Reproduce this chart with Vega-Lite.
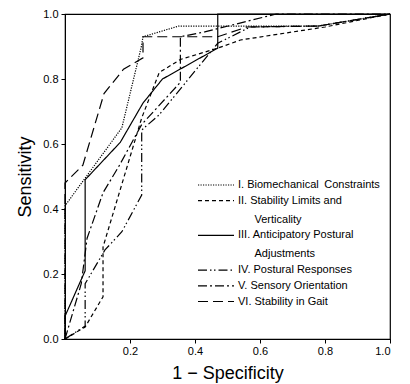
{
  "$schema": "https://vega.github.io/schema/vega-lite/v6.json",
  "width": 325,
  "height": 325,
  "autosize": {"type": "none"},
  "padding": {"left": 65, "top": 14, "right": 20, "bottom": 45},
  "background": "white",
  "config": {
    "view": {"stroke": "black", "strokeWidth": 1.2},
    "font": "Liberation Sans",
    "axis": {"domainColor": "black", "tickColor": "black", "labelColor": "black", "titleColor": "black", "grid": false, "titleFontWeight": "normal", "labelFontWeight": "normal"}
  },
  "data": {
    "values": [
      {"series": "I. Biomechanical  Constraints", "o": 0, "x": 0, "y": 0},
      {"series": "I. Biomechanical  Constraints", "o": 1, "x": 0, "y": 0.41},
      {"series": "I. Biomechanical  Constraints", "o": 2, "x": 0.175, "y": 0.65},
      {"series": "I. Biomechanical  Constraints", "o": 3, "x": 0.235, "y": 0.9},
      {"series": "I. Biomechanical  Constraints", "o": 4, "x": 0.24, "y": 0.93},
      {"series": "I. Biomechanical  Constraints", "o": 5, "x": 0.35, "y": 0.963},
      {"series": "I. Biomechanical  Constraints", "o": 6, "x": 0.78, "y": 0.963},
      {"series": "I. Biomechanical  Constraints", "o": 7, "x": 1, "y": 1},

      {"series": "II. Stability Limits and Verticality", "o": 0, "x": 0, "y": 0},
      {"series": "II. Stability Limits and Verticality", "o": 1, "x": 0.062, "y": 0.037},
      {"series": "II. Stability Limits and Verticality", "o": 2, "x": 0.117, "y": 0.13},
      {"series": "II. Stability Limits and Verticality", "o": 3, "x": 0.117, "y": 0.283},
      {"series": "II. Stability Limits and Verticality", "o": 4, "x": 0.236, "y": 0.68},
      {"series": "II. Stability Limits and Verticality", "o": 5, "x": 0.29, "y": 0.82},
      {"series": "II. Stability Limits and Verticality", "o": 6, "x": 0.355, "y": 0.86},
      {"series": "II. Stability Limits and Verticality", "o": 7, "x": 0.47, "y": 0.895},
      {"series": "II. Stability Limits and Verticality", "o": 8, "x": 0.54, "y": 0.92},
      {"series": "II. Stability Limits and Verticality", "o": 9, "x": 0.8, "y": 0.96},
      {"series": "II. Stability Limits and Verticality", "o": 10, "x": 1, "y": 1},

      {"series": "III. Anticipatory Postural Adjustments", "o": 0, "x": 0, "y": 0},
      {"series": "III. Anticipatory Postural Adjustments", "o": 1, "x": 0, "y": 0.07},
      {"series": "III. Anticipatory Postural Adjustments", "o": 2, "x": 0.062, "y": 0.21},
      {"series": "III. Anticipatory Postural Adjustments", "o": 3, "x": 0.062, "y": 0.49},
      {"series": "III. Anticipatory Postural Adjustments", "o": 4, "x": 0.17, "y": 0.605},
      {"series": "III. Anticipatory Postural Adjustments", "o": 5, "x": 0.24, "y": 0.726},
      {"series": "III. Anticipatory Postural Adjustments", "o": 6, "x": 0.3, "y": 0.8},
      {"series": "III. Anticipatory Postural Adjustments", "o": 7, "x": 0.47, "y": 0.895},
      {"series": "III. Anticipatory Postural Adjustments", "o": 8, "x": 0.47, "y": 1},
      {"series": "III. Anticipatory Postural Adjustments", "o": 9, "x": 1, "y": 1},

      {"series": "IV. Postural Responses", "o": 0, "x": 0, "y": 0},
      {"series": "IV. Postural Responses", "o": 1, "x": 0.062, "y": 0.04},
      {"series": "IV. Postural Responses", "o": 2, "x": 0.062, "y": 0.17},
      {"series": "IV. Postural Responses", "o": 3, "x": 0.123, "y": 0.274},
      {"series": "IV. Postural Responses", "o": 4, "x": 0.175, "y": 0.33},
      {"series": "IV. Postural Responses", "o": 5, "x": 0.236, "y": 0.443},
      {"series": "IV. Postural Responses", "o": 6, "x": 0.236, "y": 0.643},
      {"series": "IV. Postural Responses", "o": 7, "x": 0.29, "y": 0.69},
      {"series": "IV. Postural Responses", "o": 8, "x": 0.47, "y": 0.91},
      {"series": "IV. Postural Responses", "o": 9, "x": 0.57, "y": 0.96},
      {"series": "IV. Postural Responses", "o": 10, "x": 0.78, "y": 0.963},
      {"series": "IV. Postural Responses", "o": 11, "x": 1, "y": 1},

      {"series": "V. Sensory Orientation", "o": 0, "x": 0, "y": 0},
      {"series": "V. Sensory Orientation", "o": 1, "x": 0.05, "y": 0.17},
      {"series": "V. Sensory Orientation", "o": 2, "x": 0.068, "y": 0.31},
      {"series": "V. Sensory Orientation", "o": 3, "x": 0.117, "y": 0.45},
      {"series": "V. Sensory Orientation", "o": 4, "x": 0.165, "y": 0.53},
      {"series": "V. Sensory Orientation", "o": 5, "x": 0.236, "y": 0.66},
      {"series": "V. Sensory Orientation", "o": 6, "x": 0.355, "y": 0.79},
      {"series": "V. Sensory Orientation", "o": 7, "x": 0.355, "y": 0.93},
      {"series": "V. Sensory Orientation", "o": 8, "x": 0.43, "y": 0.945},
      {"series": "V. Sensory Orientation", "o": 9, "x": 0.65, "y": 1},
      {"series": "V. Sensory Orientation", "o": 10, "x": 1, "y": 1},

      {"series": "VI. Stability in Gait", "o": 0, "x": 0, "y": 0},
      {"series": "VI. Stability in Gait", "o": 1, "x": 0, "y": 0.48},
      {"series": "VI. Stability in Gait", "o": 2, "x": 0.055, "y": 0.535},
      {"series": "VI. Stability in Gait", "o": 3, "x": 0.12, "y": 0.755},
      {"series": "VI. Stability in Gait", "o": 4, "x": 0.18, "y": 0.83},
      {"series": "VI. Stability in Gait", "o": 5, "x": 0.24, "y": 0.865},
      {"series": "VI. Stability in Gait", "o": 6, "x": 0.24, "y": 0.93},
      {"series": "VI. Stability in Gait", "o": 7, "x": 0.47, "y": 0.93},
      {"series": "VI. Stability in Gait", "o": 8, "x": 0.56, "y": 0.96},
      {"series": "VI. Stability in Gait", "o": 9, "x": 0.78, "y": 0.963},
      {"series": "VI. Stability in Gait", "o": 10, "x": 1, "y": 1}
    ]
  },
  "mark": {"type": "line", "strokeWidth": 1.2, "color": "black"},
  "encoding": {
    "x": {
      "field": "x", "type": "quantitative",
      "scale": {"domain": [0, 1], "nice": false},
      "axis": {"title": "1 − Specificity", "values": [0.2, 0.4, 0.6, 0.8, 1.0], "format": ".1f", "tickSize": 4, "labelFontSize": 11, "titleFontSize": 18, "labelPadding": 2, "titlePadding": 8}
    },
    "y": {
      "field": "y", "type": "quantitative",
      "scale": {"domain": [0, 1], "nice": false},
      "axis": {"title": "Sensitivity", "values": [0, 0.2, 0.4, 0.6, 0.8, 1.0], "format": ".1f", "tickSize": 4, "labelFontSize": 11, "titleFontSize": 18, "labelPadding": 3, "titlePadding": 8,
        "encode": {"labels": {"update": {"dy": {"signal": "datum.value == 0 ? 6 : 0"}}}}}
    },
    "order": {"field": "o", "type": "quantitative"},
    "strokeDash": {
      "field": "series", "type": "nominal",
      "scale": {
        "domain": ["I. Biomechanical  Constraints", "II. Stability Limits and Verticality", "III. Anticipatory Postural Adjustments", "IV. Postural Responses", "V. Sensory Orientation", "VI. Stability in Gait"],
        "range": [[1.2, 1.3], [4, 3], [1, 0], [9, 3, 1.5, 2.5, 1.5, 3], [9, 3, 2, 3], [10, 5]]
      },
      "legend": {
        "title": null,
        "orient": "none",
        "legendX": 144,
        "legendY": 164,
        "padding": 0,
        "symbolType": "M-3,0H3",
        "symbolSize": 144,
        "symbolStrokeWidth": 1.2,
        "symbolStrokeColor": "black",
        "symbolFillColor": "transparent",
        "labelFontSize": 11,
        "labelColor": "black",
        "labelOffset": 15,
        "rowPadding": 3.7,
        "labelLimit": 300,
        "labelExpr": "datum.label == 'I. Biomechanical  Constraints' ? 'I. Biomechanical\u2002Constraints' : datum.label == 'II. Stability Limits and Verticality' ? ['II. Stability Limits and', '\u200b\u2003\u2002Verticality'] : datum.label == 'III. Anticipatory Postural Adjustments' ? ['III. Anticipatory Postural', '\u200b\u2003\u2002Adjustments'] : datum.label",
        "encode": {"labels": {"update": {"lineHeight": {"value": 19}}}}
      }
    }
  }
}
